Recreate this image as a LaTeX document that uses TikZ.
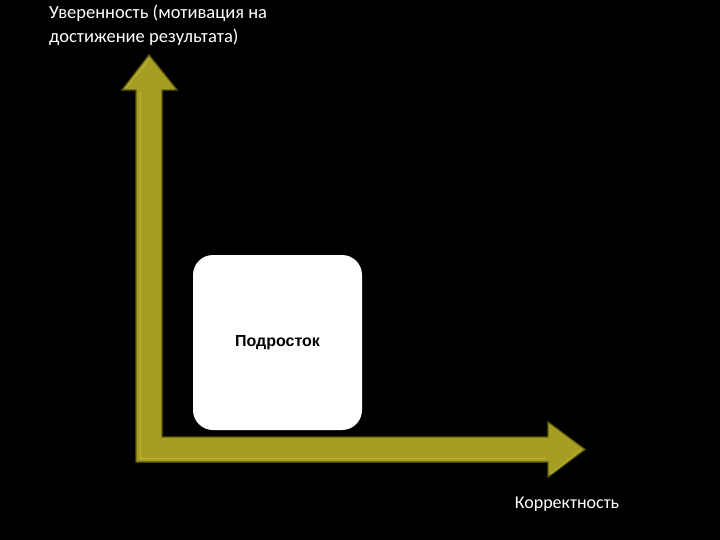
\documentclass[tikz,border=0pt]{standalone}
\usepackage{fontspec}
\setmainfont{Carlito}
\newfontfamily\boxfont{Liberation Sans}
\definecolor{olivefill}{RGB}{165,158,34}
\definecolor{olivedark}{RGB}{95,90,12}
\definecolor{olivelight}{RGB}{205,200,80}
\begin{document}
\begin{tikzpicture}[x=1pt,y=-1pt,
  lbl/.style={text=white,font=\fontsize{18.5}{24}\selectfont,inner sep=0pt},
  card/.style={fill=white,rounded corners=20pt,minimum width=169pt,minimum height=175pt,inner sep=0pt,font=\boxfont\bfseries\fontsize{16}{18}\selectfont,text=black}]
\useasboundingbox[fill=black] (0,0) rectangle (720,540);
% L-shaped double arrow
\fill[olivefill,draw=olivedark,line width=1.2pt,line join=miter]
  (149,55) -- (177,90) -- (162,90) -- (162,437) -- (548,437) -- (548,422)
  -- (585,449.5) -- (548,477) -- (548,462) -- (136,462) -- (136,90) -- (122,90) -- cycle;
% bevel highlights
\draw[olivelight,line width=1pt,opacity=0.6] (140,458) -- (140,92);
\draw[olivelight,line width=1pt,opacity=0.6] (140,458) -- (546,458);
\draw[olivelight,line width=1pt,opacity=0.5] (126,88) -- (149,59);
\draw[olivelight,line width=1pt,opacity=0.5] (551,474) -- (581,449.5);
\node[card] (box) at (277.5,342.5) {\raisebox{-2pt}{Подросток}};
\node[lbl,anchor=north west,align=left] (ylab) at (49,5) {Уверенность (мотивация на\\достижение результата)};
\node[lbl,font=\fontsize{18}{22}\selectfont] (xlab) at (567,504) {Корректность};
\end{tikzpicture}
\end{document}
